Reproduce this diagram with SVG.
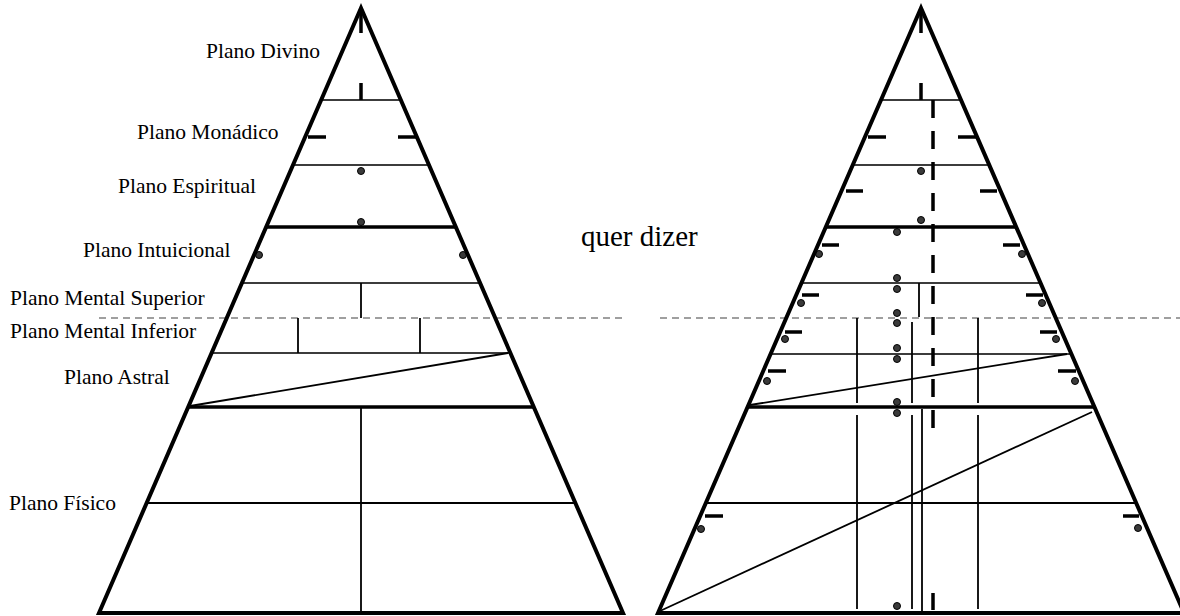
<svg xmlns="http://www.w3.org/2000/svg" width="1180" height="616" viewBox="0 0 1180 616">
<style>
.edge{fill:none;stroke:#000;stroke-width:4;stroke-linejoin:miter}
.thick{stroke:#000;stroke-width:3.5}
.thin{stroke:#3c3c3c;stroke-width:2.2}
.vl{stroke:#000;stroke-width:1.8}
.tick{stroke:#000;stroke-width:3.5}
.dot{fill:#3a3a3a;stroke:#000;stroke-width:1}
.sep{stroke:#808080;stroke-width:1.6;stroke-dasharray:7 5}
.lbl{font-family:"Liberation Serif","Times New Roman",serif;font-size:21.5px;fill:#000}
.big{font-family:"Liberation Serif","Times New Roman",serif;font-size:29px;fill:#000}
</style>
<rect width="1180" height="616" fill="#fff"/>

<g id="separator">
<line class="sep" x1="99" y1="318" x2="622" y2="318"/>
<line class="sep" x1="660" y1="318" x2="1180" y2="318"/>
</g>

<g id="left-pyramid">
<line class="thin" x1="321" y1="100" x2="401" y2="100"/>
<line class="thin" x1="293" y1="165" x2="429" y2="165"/>
<line class="thick" x1="266" y1="227" x2="456" y2="227"/>
<line class="thin" x1="242" y1="283" x2="480" y2="283"/>
<line class="thin" x1="212" y1="353" x2="510" y2="353"/>
<line class="thick" x1="188" y1="407" x2="534" y2="407"/>
<line class="vl" x1="147" y1="503" x2="575" y2="503"/>
<line class="vl" x1="361" y1="283" x2="361" y2="318"/>
<line class="vl" x1="298" y1="318" x2="298" y2="353"/>
<line class="vl" x1="420" y1="318" x2="420" y2="353"/>
<line class="vl" x1="361" y1="407" x2="361" y2="612"/>
<line class="vl" x1="190" y1="406" x2="508" y2="353"/>
<line class="tick" x1="361" y1="10" x2="361" y2="33"/>
<line class="tick" x1="361" y1="83" x2="361" y2="100"/>
<line class="tick" x1="308" y1="137" x2="326" y2="137"/>
<line class="tick" x1="398" y1="137" x2="417" y2="137"/>
<circle class="dot" cx="361" cy="171" r="3.5"/>
<circle class="dot" cx="361" cy="222" r="3.5"/>
<circle class="dot" cx="259" cy="255" r="3.5"/>
<circle class="dot" cx="463" cy="255" r="3.5"/>
<polygon class="edge" points="361,8 99,613 623,613"/>
</g>

<g id="right-pyramid">
<line class="thin" x1="881" y1="100" x2="961" y2="100"/>
<line class="thin" x1="853" y1="165" x2="989" y2="165"/>
<line class="thick" x1="826" y1="227" x2="1016" y2="227"/>
<line class="thin" x1="802" y1="283" x2="1040" y2="283"/>
<line class="thin" x1="772" y1="354" x2="1070" y2="354"/>
<line class="thick" x1="748" y1="407" x2="1094" y2="407"/>
<line class="vl" x1="707" y1="503" x2="1135" y2="503"/>
<line class="vl" x1="919" y1="283" x2="919" y2="317"/>
<line class="vl" x1="857" y1="318" x2="857" y2="403"/>
<line class="vl" x1="857" y1="415" x2="857" y2="609"/>
<line class="vl" x1="978" y1="318" x2="978" y2="403"/>
<line class="vl" x1="978" y1="415" x2="978" y2="609"/>
<line class="vl" x1="912" y1="322" x2="912" y2="403"/>
<line class="vl" x1="912" y1="415" x2="912" y2="609"/>
<line class="vl" x1="922" y1="409" x2="922" y2="612"/>
<line class="vl" x1="750" y1="405" x2="1067" y2="354"/>
<line class="vl" x1="660" y1="611" x2="1092" y2="412"/>
<line class="tick" x1="921" y1="10" x2="921" y2="33"/>
<line class="tick" x1="921" y1="83" x2="921" y2="100"/>
<line class="tick" x1="933" y1="100" x2="933" y2="428" stroke-dasharray="18 13"/>
<line class="tick" x1="933" y1="593" x2="933" y2="610"/>
<line class="tick" x1="868" y1="137" x2="886" y2="137"/>
<line class="tick" x1="958" y1="137" x2="977" y2="137"/>
<line class="tick" x1="846" y1="191" x2="863" y2="191"/>
<line class="tick" x1="980" y1="191" x2="997" y2="191"/>
<line class="tick" x1="822" y1="245" x2="839" y2="245"/>
<line class="tick" x1="1003" y1="245" x2="1020" y2="245"/>
<line class="tick" x1="802" y1="295" x2="819" y2="295"/>
<line class="tick" x1="1026" y1="295" x2="1043" y2="295"/>
<line class="tick" x1="785" y1="332" x2="802" y2="332"/>
<line class="tick" x1="1040" y1="332" x2="1057" y2="332"/>
<line class="tick" x1="768" y1="371" x2="786" y2="371"/>
<line class="tick" x1="1058" y1="371" x2="1076" y2="371"/>
<line class="tick" x1="705" y1="516" x2="723" y2="516"/>
<line class="tick" x1="1123" y1="516" x2="1139" y2="516"/>
<circle class="dot" cx="921" cy="171" r="3.5"/>
<circle class="dot" cx="921" cy="220" r="3.5"/>
<circle class="dot" cx="897" cy="232" r="3.5"/>
<circle class="dot" cx="819" cy="254" r="3.5"/>
<circle class="dot" cx="1022" cy="254" r="3.5"/>
<circle class="dot" cx="897" cy="278" r="3.5"/>
<circle class="dot" cx="897" cy="289" r="3.5"/>
<circle class="dot" cx="801" cy="303" r="3.5"/>
<circle class="dot" cx="1042" cy="303" r="3.5"/>
<circle class="dot" cx="897" cy="313" r="3.5"/>
<circle class="dot" cx="897" cy="323" r="3.5"/>
<circle class="dot" cx="785" cy="339" r="3.5"/>
<circle class="dot" cx="1056" cy="339" r="3.5"/>
<circle class="dot" cx="897" cy="348" r="3.5"/>
<circle class="dot" cx="897" cy="359" r="3.5"/>
<circle class="dot" cx="767" cy="381" r="3.5"/>
<circle class="dot" cx="1075" cy="381" r="3.5"/>
<circle class="dot" cx="897" cy="402" r="3.5"/>
<circle class="dot" cx="897" cy="413" r="3.5"/>
<circle class="dot" cx="701" cy="529" r="3.5"/>
<circle class="dot" cx="1138" cy="528" r="3.5"/>
<circle class="dot" cx="897" cy="606" r="3.5"/>
<polygon class="edge" points="921,8 658,613 1184,613"/>
</g>

<g id="labels">
<text class="lbl" x="206" y="58">Plano Divino</text>
<text class="lbl" x="137" y="139">Plano Monádico</text>
<text class="lbl" x="118" y="193">Plano Espiritual</text>
<text class="lbl" x="83" y="257">Plano Intuicional</text>
<text class="lbl" x="10" y="305">Plano Mental Superior</text>
<text class="lbl" x="10" y="338">Plano Mental Inferior</text>
<text class="lbl" x="64" y="384">Plano Astral</text>
<text class="lbl" x="9" y="510">Plano Físico</text>
<text class="big" x="581" y="246">quer dizer</text>
</g>
</svg>
